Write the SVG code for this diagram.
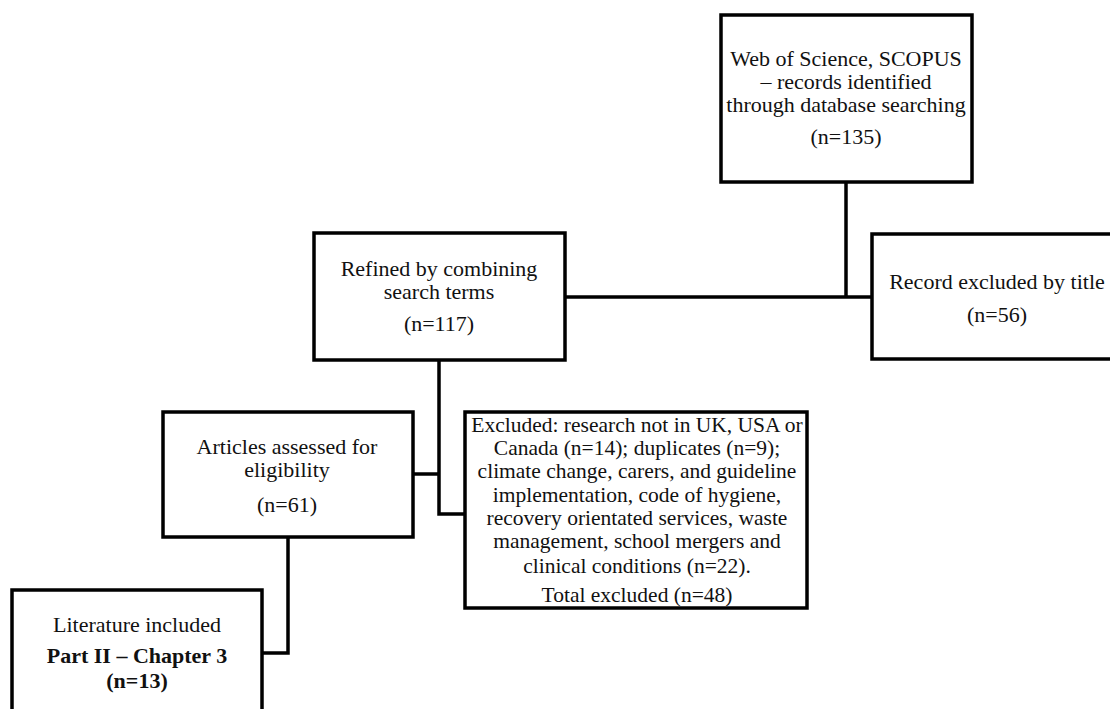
<svg xmlns="http://www.w3.org/2000/svg" width="1110" height="709" viewBox="0 0 1110 709">
  <style>
    .box { fill: #ffffff; stroke: #000000; stroke-width: 3.5; }
    .link { fill: none; stroke: #000000; stroke-width: 3.5; }
    text { font-family: "Liberation Serif", "Times New Roman", serif; font-size: 22px; fill: #111111; text-anchor: middle; }
    .small { font-size: 21.5px; }
    .bold { font-weight: bold; }
  </style>
  <rect x="0" y="0" width="1110" height="709" fill="#ffffff"/>

  <!-- connectors -->
  <g id="connectors">
    <path class="link" d="M846 182 V297"/>
    <path class="link" d="M565 297 H872"/>
    <path class="link" d="M439 360 V514 H465"/>
    <path class="link" d="M413 474 H439"/>
    <path class="link" d="M288 537 V653 H262"/>
  </g>

  <!-- database search -->
  <g id="node-search">
    <rect class="box" x="721" y="15" width="251" height="167"/>
    <text x="846" y="66">Web of Science, SCOPUS</text>
    <text x="846" y="89">– records identified</text>
    <text x="846" y="112">through database searching</text>
    <text x="846" y="144">(n=135)</text>
  </g>

  <!-- refined -->
  <g id="node-refined">
    <rect class="box" x="314" y="233" width="251" height="127"/>
    <text x="439" y="276">Refined by combining</text>
    <text x="439" y="299">search terms</text>
    <text x="439" y="331">(n=117)</text>
  </g>

  <!-- excluded by title -->
  <g id="node-title-excluded">
    <rect class="box" x="872" y="234" width="252" height="125"/>
    <text x="997" y="289">Record excluded by title</text>
    <text x="997" y="322">(n=56)</text>
  </g>

  <!-- eligibility -->
  <g id="node-eligibility">
    <rect class="box" x="163" y="412" width="250" height="125"/>
    <text x="287" y="454">Articles assessed for</text>
    <text x="287" y="477">eligibility</text>
    <text x="287" y="512">(n=61)</text>
  </g>

  <!-- excluded at full text -->
  <g id="node-excluded">
    <rect class="box" x="465" y="412" width="342" height="196"/>
    <text class="small" x="637" y="432">Excluded: research not in UK, USA or</text>
    <text class="small" x="637" y="455">Canada (n=14); duplicates (n=9);</text>
    <text class="small" x="637" y="478">climate change, carers, and guideline</text>
    <text class="small" x="637" y="502">implementation, code of hygiene,</text>
    <text class="small" x="637" y="525">recovery orientated services, waste</text>
    <text class="small" x="637" y="548">management, school mergers and</text>
    <text class="small" x="637" y="573">clinical  conditions (n=22).</text>
    <text class="small" x="637" y="602">Total excluded (n=48)</text>
  </g>

  <!-- included -->
  <g id="node-included">
    <rect class="box" x="12" y="590" width="250" height="140"/>
    <text x="137" y="632">Literature included</text>
    <text class="bold" x="137" y="663">Part II – Chapter 3</text>
    <text class="bold" x="137" y="688">(n=13)</text>
  </g>
</svg>
